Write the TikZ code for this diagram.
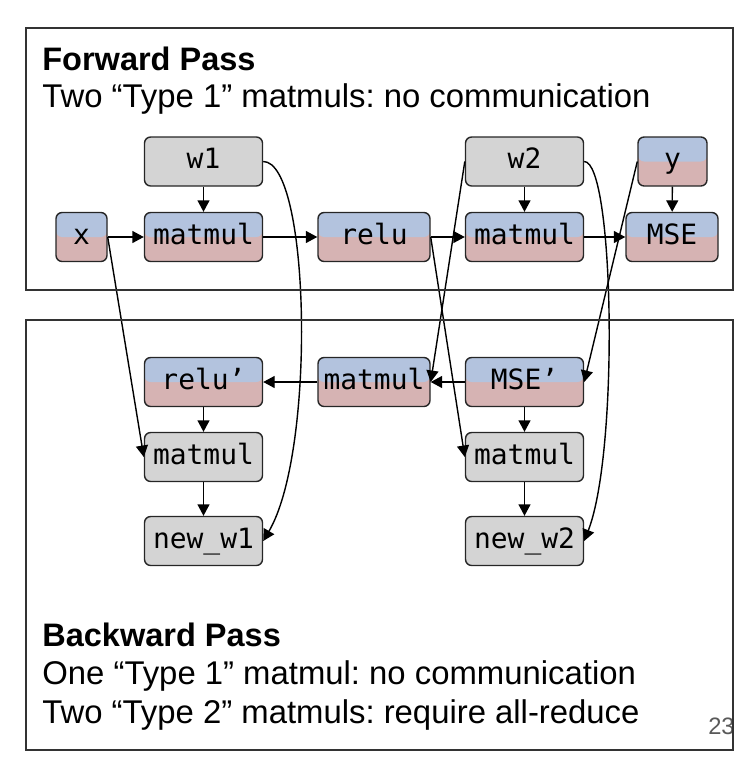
\documentclass[tikz,border=0pt]{standalone}
\usepackage{fontspec}
\setmainfont{Liberation Sans}
\setmonofont{DejaVu Sans Mono}
\usepackage{xcolor}
\usepackage{tikz}
\usetikzlibrary{arrows.meta}
\definecolor{bluec}{HTML}{B3C3DE}
\definecolor{redc}{HTML}{D6B3B3}
\definecolor{grayc}{HTML}{D4D4D4}
\frenchspacing

\begin{document}
\begin{tikzpicture}[
    box/.style={draw=black!85, line width=0.8pt, rounded corners=3.5pt, minimum width=2.36cm, minimum height=0.98cm, inner sep=0pt, text height=0.84em, text depth=0pt, align=center, font=\ttfamily\fontsize{15.9}{19}\selectfont},
    wgt/.style={box, fill=grayc},
    act/.style={box, fill=redc, path picture={\fill[bluec] (path picture bounding box.north west) rectangle (path picture bounding box.east);}},
    frame/.style={draw=black!80, line width=0.9pt},
    head/.style={anchor=base west, inner sep=0pt, font=\bfseries\fontsize{18.5}{22}\selectfont},
    body/.style={anchor=base west, inner sep=0pt, font=\fontsize{18.7}{22}\selectfont},
    arr/.style={-{Triangle[length=2.3mm,width=2.4mm]}, line width=0.8pt},
]
    \useasboundingbox (0,0) rectangle (15,-15.44);

    \node[head] (fwd)  at (0.84,-1.40)  {Forward Pass};
    \node[body] (fwdt) at (0.84,-2.14)  {Two “Type 1” matmuls: no communication};
    \node[head] (bwd)  at (0.84,-12.92) {Backward Pass};
    \node[body] (bwd1) at (0.84,-13.68) {One “Type 1” matmul: no communication};
    \node[body] (bwd2) at (0.84,-14.46) {Two “Type 2” matmuls: require all-reduce};
    \node[anchor=base east, inner sep=0pt, text=black!65, font=\fontsize{13.5}{15}\selectfont] (pg) at (14.70,-14.68) {23};

    \node[wgt] (w1)    at ( 4.07,-3.23) {w1};
    \node[act, minimum width=1.02cm] (x) at (1.63,-4.74) {x};
    \node[act] (mm1)   at ( 4.07,-4.74) {matmul};
    \node[act, minimum width=2.24cm] (relu) at (7.48,-4.74) {relu};
    \node[wgt] (w2)    at (10.49,-3.23) {w2};
    \node[act] (mm2)   at (10.49,-4.74) {matmul};
    \node[act, minimum width=1.38cm] (y) at (13.45,-3.23) {y};
    \node[act, minimum width=1.84cm] (mse) at (13.44,-4.74) {MSE};

    \node[act] (relup) at ( 4.07,-7.64) {relu’};
    \node[act, minimum width=2.24cm] (bmm) at (7.48,-7.64) {matmul};
    \node[act] (msep)  at (10.49,-7.64) {MSE’};
    \node[wgt] (gw1)   at ( 4.07,-9.14) {matmul};
    \node[wgt] (gw2)   at (10.49,-9.14) {matmul};
    \node[wgt] (nw1)   at ( 4.07,-10.82) {new\_w1};
    \node[wgt] (nw2)   at (10.49,-10.82) {new\_w2};

    \draw[arr] (w1) -- (mm1);
    \draw[arr] (x) -- (mm1);
    \draw[arr] (mm1) -- (relu);
    \draw[arr] (relu) -- (mm2);
    \draw[arr] (w2) -- (mm2);
    \draw[arr] (mm2) -- (mse);
    \draw[arr] (y) -- (mse);

    \draw[arr] (msep) -- (bmm);
    \draw[arr] (bmm) -- (relup);
    \draw[arr] (relup) -- (gw1);
    \draw[arr] (gw1) -- (nw1);
    \draw[arr] (msep) -- (gw2);
    \draw[arr] (gw2) -- (nw2);

    \draw[arr] (x.east) -- (gw1.west);
    \draw[arr] (relu.east) -- (gw2.west);
    \draw[arr] (w2.west) -- (bmm.east);
    \draw[arr] (y.west) -- (msep.east);
    \draw[arr] (w1.east) .. controls +(0.94,0) and +(1.06,1.8) .. (nw1.east);
    \draw[arr] (w2.east) .. controls +(0.6,0) and +(0.7,1.8) .. (nw2.east);

    \draw[frame] (0.52,-0.56) rectangle (14.66,-5.80);
    \draw[frame] (0.52,-6.40) rectangle (14.66,-15.00);
\end{tikzpicture}
\end{document}
